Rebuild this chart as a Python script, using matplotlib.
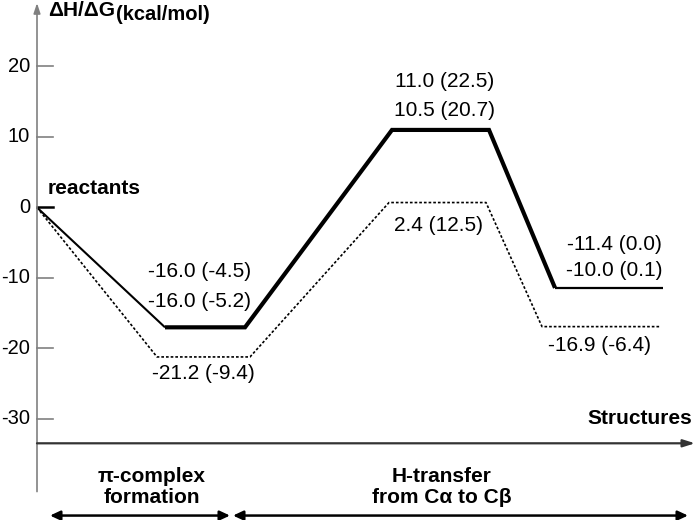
import numpy as np
import matplotlib.pyplot as plt
from matplotlib.patches import FancyArrowPatch

plt.rcParams['font.family'] = ['Liberation Sans', 'DejaVu Sans']

# energy levels as drawn (kcal/mol): reactants, pi-complex, TS, product
solid_levels = [0.0, -17.0, 11.0, -11.4]
dotted_levels = [0.0, -21.2, 0.7, -16.9]

# numbers printed next to the levels
solid_labels = [['-16.0 (-4.5)', '-16.0 (-5.2)'],
                ['11.0 (22.5)', '10.5 (20.7)'],
                ['-11.4 (0.0)', '-10.0 (0.1)']]
dotted_labels = ['-21.2 (-9.4)', '2.4 (12.5)', '-16.9 (-6.4)']

yticks = [20, 10, 0, -10, -20, -30]

### layout (horizontal positions in figure pixels, vertical in kcal/mol)
X0 = 37
solid_x = [(165, 245), (392, 489), (555, 663)]
dotted_x = [(157, 250), (389, 486), (542, 660)]
solid_lab_pos = [(200, -9.15, -13.4), (445, 17.9, 13.8), (614, -5.2, -8.9)]
dotted_lab_pos = [(203, -23.6), (438, -2.5), (600, -19.6)]

fig = plt.figure(figsize=(6.95, 5.2), dpi=100)
ax = fig.add_axes([0, 0, 1, 1])
ax.set_xlim(0, 695)
ax.set_ylim(-44.33, 29.43)
ax.axis('off')

FS = 15

def path(levels, xs):
    px, py = [X0], [levels[0]]
    for (a, b), e in zip(xs, levels[1:]):
        px += [a, b]
        py += [e, e]
    return px, py

# solid curve: thin first descent and last plateau, thick in between
sx, sy = path(solid_levels, solid_x)
ax.plot(sx[:2], sy[:2], color='black', lw=1.5, solid_capstyle='butt')
ax.plot(sx[1:6], sy[1:6], color='black', lw=3.0,
        solid_joinstyle='miter', solid_capstyle='butt')
ax.plot(sx[5:], sy[5:], color='black', lw=1.6, solid_capstyle='butt')

# dotted curve
dx, dy = path(dotted_levels, dotted_x)
ax.plot(dx, dy, color='black', lw=1.2, linestyle=(0, (1.6, 1.2)))

# y axis with arrow
ax.annotate('', xy=(X0, 29.0), xytext=(X0, -40.3),
            arrowprops=dict(arrowstyle='-|>,head_length=0.6,head_width=0.2',
                            color='#808080', lw=1.2, shrinkA=0, shrinkB=0))
for t in yticks:
    ax.plot([X0, 53], [t, t], color='black' if t == 0 else '#808080',
            lw=1.8 if t == 0 else 1.2)
    ax.text(30, t, str(t), ha='right', va='center', fontsize=14.5)

# x axis with arrow
ax.annotate('', xy=(695, -33.45), xytext=(X0, -33.45),
            arrowprops=dict(arrowstyle='-|>,head_length=0.7,head_width=0.22',
                            color='#333333', lw=1.6, shrinkA=0, shrinkB=0))
ax.text(692, -30.0, 'Structures', ha='right', va='center',
        fontsize=FS, fontweight='bold')

ax.text(48, 28.0, 'ΔH/ΔG', ha='left', va='center', fontsize=FS,
        fontweight='bold')
ax.text(116, 27.4, '(kcal/mol)', ha='left', va='center', fontsize=14.5,
        fontweight='bold')
ax.text(48, 2.7, 'reactants', ha='left', va='center', fontsize=FS,
        fontweight='bold')

for (top, bot), (x, y1, y2) in zip(solid_labels, solid_lab_pos):
    ax.text(x, y1, top, ha='center', va='center', fontsize=FS)
    ax.text(x, y2, bot, ha='center', va='center', fontsize=FS)
for lab, (x, y) in zip(dotted_labels, dotted_lab_pos):
    ax.text(x, y, lab, ha='center', va='center', fontsize=FS)

# stage annotations below the axis
ax.text(152, -38.2, 'π-complex', ha='center', va='center', fontsize=FS,
        fontweight='bold')
ax.text(152, -41.1, 'formation', ha='center', va='center', fontsize=FS,
        fontweight='bold')
ax.text(442, -38.1, 'H-transfer', ha='center', va='center', fontsize=FS,
        fontweight='bold')
ax.text(442, -41.1, 'from Cα to Cβ', ha='center', va='center', fontsize=FS,
        fontweight='bold')

for a, b in [(50, 230), (233, 688)]:
    ax.add_patch(FancyArrowPatch((a, -43.7), (b, -43.7),
                                 arrowstyle='<|-|>,head_length=6,head_width=2.8',
                                 color='black', lw=1.8, shrinkA=0, shrinkB=0))

fig.savefig('out.png', dpi=100)
